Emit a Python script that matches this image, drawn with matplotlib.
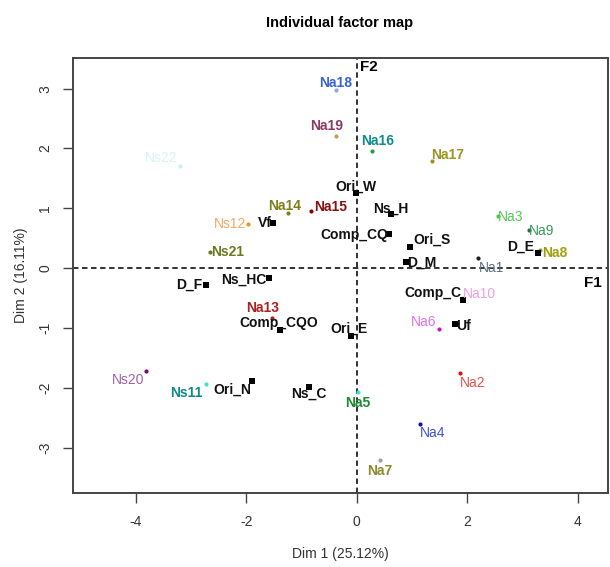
import matplotlib.pyplot as plt

plt.rcParams['font.family'] = ['Liberation Sans', 'DejaVu Sans']
plt.rcParams['axes.unicode_minus'] = False

# individuals (coloured dots)
ind_names = ['Na18', 'Na19', 'Ns22', 'Na14', 'Na15', 'Ns12', 'Ns21', 'Na16', 'Na17', 'Na3',
             'Na9', 'Na8', 'Na1', 'Na10', 'Na6', 'Na2', 'Na5', 'Na4', 'Na7', 'Na13',
             'Ns20', 'Ns11']
ind_x = [-0.38, -0.38, -3.21, -1.25, -0.83, -1.97, -2.66, 0.27, 1.36, 2.55,
         3.12, 3.32, 2.19, 1.92, 1.49, 1.87, 0.02, 1.14, 0.42, -1.54,
         -3.82, -2.74]
ind_y = [2.98, 2.21, 1.71, 0.92, 0.95, 0.74, 0.27, 1.96, 1.79, 0.87,
         0.64, 0.30, 0.17, -0.50, -1.02, -1.76, -2.07, -2.60, -3.21, -0.84,
         -1.72, -1.94]

# supplementary variables (black squares)
sup_names = ['Ori_W', 'Ns_H', 'Comp_CQ', 'Vf', 'Ori_S', 'D_M', 'D_E', 'Comp_C', 'Uf',
             'Ori_E', 'Ns_HC', 'D_F', 'Comp_CQO', 'Ori_N', 'Ns_C']
sup_x = [-0.02, 0.62, 0.58, -1.52, 0.96, 0.89, 3.28, 1.92, 1.78,
         -0.11, -1.59, -2.74, -1.39, -1.90, -0.87]
sup_y = [1.25, 0.90, 0.57, 0.75, 0.35, 0.10, 0.25, -0.54, -0.94,
         -1.14, -0.17, -0.28, -1.04, -1.89, -1.99]

# colours: label, point
lab_col = {'Na18': '#3a62d8', 'Na19': '#8b3a62', 'Ns22': '#d8f4f8', 'Na14': '#7f7f1a',
           'Na15': '#8b1010', 'Ns12': '#f4a860', 'Ns21': '#6b7a20', 'Na16': '#108a8a',
           'Na17': '#9a9420', 'Na3': '#55c855', 'Na9': '#3a9a5a', 'Na8': '#a0a010',
           'Na1': '#607088', 'Na10': '#f0a0e0', 'Na6': '#e070e8', 'Na2': '#e85050',
           'Na5': '#1a8a30', 'Na4': '#4050d8', 'Na7': '#8a8a30', 'Na13': '#b02020',
           'Ns20': '#a060a8', 'Ns11': '#108888'}
pt_col = {'Na18': '#88aaee', 'Na19': '#c0a050', 'Ns22': '#c0f0f8', 'Na14': '#808020',
          'Na15': '#8b0000', 'Ns12': '#f09020', 'Ns21': '#6b7a20', 'Na16': '#20a040',
          'Na17': '#a09020', 'Na3': '#40d040', 'Na9': '#207040', 'Na8': '#a0a010',
          'Na1': '#202020', 'Na10': '#f0a0e0', 'Na6': '#d010d0', 'Na2': '#e01010',
          'Na5': '#40e0e0', 'Na4': '#1010b0', 'Na7': '#a0a0a0', 'Na13': '#b02020',
          'Ns20': '#800080', 'Ns11': '#40e0e0'}
bold_labels = ['Na18', 'Na19', 'Na14', 'Na15', 'Ns21', 'Na16', 'Na17', 'Na8', 'Na5',
               'Na7', 'Na13', 'Ns11']

# label offsets in pixels (centre of text relative to the point)
ind_off = {'Na18': (0, 7), 'Na19': (-9, 10), 'Ns22': (-18, 8), 'Na14': (-3, 7),
           'Na15': (20, 4), 'Ns12': (-18, 0), 'Ns21': (18, 0), 'Na16': (6, 10),
           'Na17': (16, 6), 'Na3': (13, -1), 'Na9': (13, -1), 'Na8': (15, -3),
           'Na1': (14, -10), 'Na10': (17, 4), 'Na6': (-15, 7), 'Na2': (13, -10),
           'Na5': (0, -11), 'Na4': (13, -9), 'Na7': (0, -11), 'Na13': (-9, 10),
           'Ns20': (-18, -9), 'Ns11': (-19, -9)}
sup_off = {'Ori_W': (0, 7), 'Ns_H': (0, 6), 'Comp_CQ': (-34, -1), 'Vf': (-8, 0),
           'Ori_S': (22, 7), 'D_M': (16, -1), 'D_E': (-17, 6), 'Comp_C': (-30, 7),
           'Uf': (8, -2), 'Ori_E': (-2, 8), 'Ns_HC': (-25, -1), 'D_F': (-16, 0),
           'Comp_CQO': (-1, 7), 'Ori_N': (-20, -9), 'Ns_C': (0, -7)}

fig = plt.figure(figsize=(6.1, 5.67), dpi=100)
ax = fig.add_axes([0.1197, 0.1305, 0.877, 0.767])

ax.axhline(0, color='#222222', ls=(0, (3, 2)), lw=1.3, zorder=1)
ax.axvline(0, color='#222222', ls=(0, (3, 2)), lw=1.3, zorder=1)

for n, x, y in zip(ind_names, ind_x, ind_y):
    ax.scatter(x, y, s=9, color=pt_col[n], zorder=3, linewidths=0)
    dx, dy = ind_off[n]
    ax.annotate(n, (x, y), xytext=(dx, dy), textcoords='offset pixels',
                ha='center', va='center', fontsize=10, color=lab_col[n],
                fontweight='bold' if n in bold_labels else 'normal', zorder=4)

for n, x, y in zip(sup_names, sup_x, sup_y):
    ax.scatter(x, y, s=22, marker='s', color='black', zorder=3, linewidths=0)
    dx, dy = sup_off[n]
    ax.annotate(n, (x, y), xytext=(dx, dy), textcoords='offset pixels',
                ha='center', va='center', fontsize=10, color='#111111',
                fontweight='bold', zorder=4)

ax.text(4.28, -0.25, 'F1', fontsize=11, fontweight='bold', ha='center', va='center')
ax.text(0.22, 3.36, 'F2', fontsize=11, fontweight='bold', ha='center', va='center')

ax.set_xlim(-5.14, 4.55)
ax.set_ylim(-3.76, 3.51)
ax.set_xticks([-4, -2, 0, 2, 4])
ax.set_yticks([-3, -2, -1, 0, 1, 2, 3])
ax.tick_params(direction='out', length=7, width=1, colors='#444444', labelsize=10,
               labelcolor='#333333')
ax.tick_params(axis='x', pad=9)
ax.tick_params(axis='y', pad=8)
for lab in ax.get_yticklabels():
    lab.set_rotation(90)
    lab.set_va('center')
for sp in ax.spines.values():
    sp.set_color('#444444')
    sp.set_linewidth(1.4)

ax.set_xlabel('Dim 1 (25.12%)', fontsize=10, color='#333333', labelpad=13)
ax.set_ylabel('Dim 2 (16.11%)', fontsize=10, color='#333333', labelpad=7)
fig.text(0.557, 0.96, 'Individual factor map', fontsize=10.5, fontweight='bold',
         ha='center', va='center')

fig.savefig('out.png', dpi=100)
